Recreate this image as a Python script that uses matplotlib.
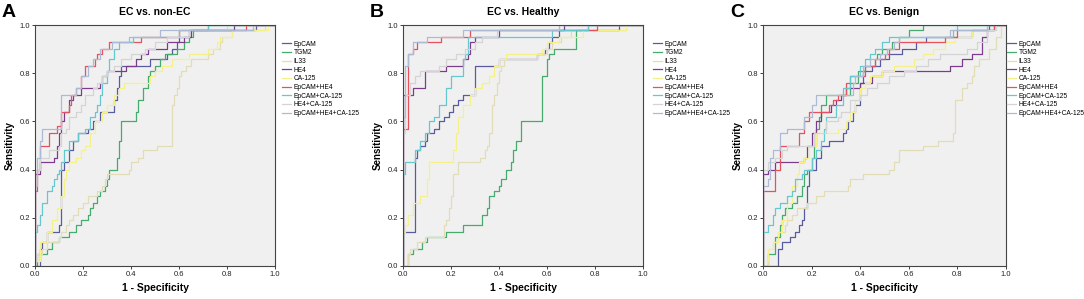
import matplotlib
matplotlib.use("Agg")
import matplotlib.pyplot as plt

plt.rcParams['font.family'] = ['Liberation Sans', 'DejaVu Sans']

LABELS = ['EpCAM', 'TGM2', 'IL33', 'HE4', 'CA-125', 'EpCAM+HE4',
          'EpCAM+CA-125', 'HE4+CA-125', 'EpCAM+HE4+CA-125']
COLORS = ['#5a5aa0', '#46ab6c', '#e2ddb6', '#7c3c8c', '#f6f08a', '#e8505c',
          '#66c8cc', '#d4d4d4', '#adbad6']
TITLES = ['EC vs. non-EC', 'EC vs. Healthy', 'EC vs. Benign']
LETTERS = ['A', 'B', 'C']

# ---- panel A: EC vs. non-EC  (fpr, tpr) ----
A_EPCAM = ([0, 0.02, 0.03, 0.05, 0.10, 0.11, 0.12, 0.14, 0.16, 0.18, 0.22, 0.24, 0.27, 0.33, 0.34, 0.35, 0.36, 0.48, 0.55, 0.57, 0.59, 0.60, 0.64, 0.92, 1.0],
           [0, 0.07, 0.10, 0.14, 0.17, 0.40, 0.43, 0.48, 0.52, 0.55, 0.57, 0.60, 0.64, 0.69, 0.74, 0.79, 0.83, 0.86, 0.88, 0.90, 0.93, 0.95, 0.98, 1.0, 1.0])
A_TGM2 = ([0, 0.01, 0.05, 0.07, 0.10, 0.14, 0.17, 0.19, 0.22, 0.23, 0.24, 0.26, 0.27, 0.29, 0.30, 0.31, 0.34, 0.35, 0.36, 0.42, 0.43, 0.45, 0.47, 0.48, 0.50, 0.52, 0.54, 0.59, 0.62, 0.64, 0.66, 0.72, 1.0],
          [0, 0.05, 0.07, 0.10, 0.12, 0.14, 0.17, 0.19, 0.21, 0.24, 0.26, 0.29, 0.31, 0.33, 0.36, 0.40, 0.45, 0.52, 0.60, 0.64, 0.69, 0.74, 0.79, 0.81, 0.83, 0.86, 0.88, 0.90, 0.93, 0.95, 0.98, 1.0, 1.0])
A_IL33 = ([0, 0, 0.01, 0.03, 0.05, 0.10, 0.11, 0.13, 0.14, 0.16, 0.18, 0.20, 0.22, 0.26, 0.28, 0.29, 0.30, 0.39, 0.40, 0.43, 0.45, 0.51, 0.57, 0.58, 0.59, 0.60, 0.61, 0.63, 0.65, 0.72, 0.74, 0.77, 0.78, 0.82, 0.96, 1.0],
          [0, 0.02, 0.05, 0.07, 0.10, 0.12, 0.14, 0.17, 0.19, 0.21, 0.24, 0.26, 0.29, 0.31, 0.33, 0.36, 0.38, 0.40, 0.43, 0.45, 0.48, 0.50, 0.67, 0.71, 0.74, 0.79, 0.81, 0.83, 0.86, 0.88, 0.90, 0.93, 0.95, 0.98, 1.0, 1.0])
A_HE4 = ([0, 0, 0.02, 0.08, 0.09, 0.10, 0.11, 0.12, 0.14, 0.16, 0.19, 0.27, 0.28, 0.30, 0.38, 0.42, 0.44, 0.47, 0.55, 0.62, 0.65, 0.83, 1.0],
         [0, 0.38, 0.43, 0.45, 0.50, 0.55, 0.60, 0.64, 0.69, 0.71, 0.74, 0.76, 0.79, 0.81, 0.83, 0.86, 0.88, 0.90, 0.93, 0.95, 0.98, 1.0, 1.0])
A_CA125 = ([0, 0, 0.02, 0.05, 0.07, 0.09, 0.11, 0.12, 0.13, 0.14, 0.17, 0.19, 0.21, 0.23, 0.25, 0.28, 0.30, 0.33, 0.35, 0.37, 0.48, 0.50, 0.53, 0.57, 0.64, 0.72, 0.76, 0.77, 0.82, 0.97, 1.0],
           [0, 0.02, 0.10, 0.14, 0.19, 0.24, 0.29, 0.36, 0.40, 0.43, 0.45, 0.48, 0.50, 0.55, 0.60, 0.64, 0.67, 0.71, 0.74, 0.76, 0.79, 0.81, 0.83, 0.86, 0.88, 0.90, 0.93, 0.95, 0.98, 1.0, 1.0])
A_EPCAM_HE4 = ([0, 0, 0.01, 0.02, 0.06, 0.09, 0.11, 0.14, 0.15, 0.17, 0.19, 0.21, 0.25, 0.26, 0.28, 0.31, 0.44, 0.60, 0.88, 1.0],
               [0, 0.31, 0.40, 0.50, 0.55, 0.58, 0.64, 0.67, 0.71, 0.74, 0.79, 0.83, 0.86, 0.88, 0.90, 0.93, 0.95, 0.98, 1.0, 1.0])
A_EPCAM_CA125 = ([0, 0, 0.01, 0.02, 0.03, 0.05, 0.07, 0.08, 0.09, 0.10, 0.11, 0.12, 0.14, 0.18, 0.21, 0.23, 0.25, 0.26, 0.27, 0.28, 0.30, 0.31, 0.33, 0.35, 0.41, 0.60, 0.72, 1.0],
                 [0, 0.14, 0.17, 0.21, 0.26, 0.31, 0.33, 0.36, 0.38, 0.40, 0.43, 0.48, 0.52, 0.55, 0.57, 0.62, 0.64, 0.67, 0.71, 0.76, 0.81, 0.86, 0.90, 0.93, 0.95, 0.98, 1.0, 1.0])
A_HE4_CA125 = ([0, 0, 0.02, 0.06, 0.10, 0.11, 0.13, 0.14, 0.17, 0.19, 0.21, 0.24, 0.26, 0.28, 0.30, 0.33, 0.36, 0.40, 0.46, 0.50, 0.55, 0.64, 0.80, 1.0],
               [0, 0.40, 0.45, 0.48, 0.50, 0.55, 0.57, 0.62, 0.64, 0.67, 0.71, 0.74, 0.76, 0.79, 0.81, 0.83, 0.86, 0.88, 0.90, 0.93, 0.95, 0.98, 1.0, 1.0])
A_ALL = ([0, 0, 0.01, 0.02, 0.03, 0.11, 0.11, 0.17, 0.19, 0.22, 0.24, 0.27, 0.32, 0.39, 0.52, 0.91, 1.0],
         [0, 0.33, 0.45, 0.52, 0.57, 0.60, 0.71, 0.74, 0.79, 0.83, 0.86, 0.90, 0.93, 0.95, 0.98, 1.0, 1.0])

# ---- panel B: EC vs. Healthy ----
B_EPCAM = ([0, 0, 0.05, 0.06, 0.07, 0.09, 0.10, 0.13, 0.15, 0.17, 0.19, 0.21, 0.23, 0.25, 0.30, 0.40, 0.56, 0.59, 0.61, 0.62, 0.65, 0.90, 1.0],
           [0, 0.14, 0.45, 0.48, 0.50, 0.52, 0.55, 0.57, 0.60, 0.62, 0.64, 0.67, 0.69, 0.71, 0.83, 0.86, 0.88, 0.90, 0.93, 0.95, 0.98, 1.0, 1.0])
B_TGM2 = ([0, 0.02, 0.04, 0.08, 0.10, 0.18, 0.25, 0.33, 0.35, 0.36, 0.38, 0.40, 0.41, 0.43, 0.45, 0.46, 0.47, 0.49, 0.58, 0.60, 0.61, 0.63, 0.72, 0.77, 1.0],
          [0, 0.05, 0.07, 0.10, 0.12, 0.14, 0.17, 0.21, 0.24, 0.29, 0.31, 0.33, 0.36, 0.40, 0.43, 0.48, 0.52, 0.60, 0.79, 0.86, 0.88, 0.90, 0.98, 1.0, 1.0])
B_IL33 = ([0, 0.02, 0.03, 0.06, 0.09, 0.17, 0.18, 0.19, 0.20, 0.21, 0.23, 0.32, 0.34, 0.35, 0.36, 0.37, 0.38, 0.39, 0.40, 0.41, 0.42, 0.56, 0.60, 0.62, 0.66, 0.70, 0.93, 1.0],
          [0, 0.05, 0.07, 0.10, 0.12, 0.17, 0.19, 0.24, 0.29, 0.38, 0.43, 0.45, 0.48, 0.50, 0.55, 0.67, 0.71, 0.76, 0.81, 0.83, 0.86, 0.88, 0.90, 0.93, 0.95, 0.98, 1.0, 1.0])
B_HE4 = ([0, 0, 0.04, 0.09, 0.18, 0.25, 0.27, 0.28, 0.30, 0.40, 0.67, 1.0],
         [0, 0.71, 0.74, 0.81, 0.83, 0.86, 0.88, 0.93, 0.95, 0.98, 1.0, 1.0])
B_CA125 = ([0, 0, 0.01, 0.02, 0.04, 0.07, 0.10, 0.11, 0.21, 0.22, 0.23, 0.25, 0.28, 0.30, 0.33, 0.36, 0.38, 0.40, 0.43, 0.58, 0.60, 0.65, 0.75, 0.93, 1.0],
           [0, 0.14, 0.17, 0.21, 0.26, 0.29, 0.36, 0.43, 0.48, 0.55, 0.62, 0.67, 0.71, 0.74, 0.76, 0.79, 0.83, 0.86, 0.88, 0.90, 0.93, 0.95, 0.98, 1.0, 1.0])
B_EPCAM_HE4 = ([0, 0, 0.02, 0.04, 0.06, 0.16, 0.28, 0.81, 1.0],
               [0, 0.57, 0.88, 0.90, 0.93, 0.95, 0.98, 1.0, 1.0])
B_EPCAM_CA125 = ([0, 0, 0.01, 0.05, 0.07, 0.09, 0.11, 0.13, 0.15, 0.18, 0.20, 0.25, 0.26, 0.27, 0.62, 0.77, 1.0],
                 [0, 0.38, 0.43, 0.48, 0.52, 0.55, 0.60, 0.62, 0.67, 0.74, 0.79, 0.86, 0.88, 0.95, 0.98, 1.0, 1.0])
B_HE4_CA125 = ([0, 0, 0.01, 0.03, 0.05, 0.07, 0.15, 0.18, 0.22, 0.26, 0.30, 0.33, 0.39, 0.65, 1.0],
               [0, 0.55, 0.71, 0.76, 0.79, 0.81, 0.83, 0.86, 0.88, 0.90, 0.93, 0.95, 0.98, 1.0, 1.0])
B_ALL = ([0, 0, 0.01, 0.02, 0.04, 0.10, 0.25, 0.65, 1.0],
         [0, 0.62, 0.83, 0.88, 0.93, 0.95, 0.98, 1.0, 1.0])

# ---- panel C: EC vs. Benign ----
C_EPCAM = ([0, 0.06, 0.08, 0.11, 0.13, 0.15, 0.16, 0.17, 0.18, 0.19, 0.22, 0.24, 0.27, 0.33, 0.34, 0.35, 0.37, 0.38, 0.40, 0.41, 0.45, 0.48, 0.52, 0.57, 0.63, 0.67, 0.86, 0.93, 1.0],
           [0, 0.07, 0.10, 0.12, 0.14, 0.17, 0.19, 0.24, 0.33, 0.40, 0.45, 0.50, 0.52, 0.55, 0.57, 0.60, 0.64, 0.67, 0.76, 0.81, 0.83, 0.86, 0.88, 0.90, 0.93, 0.95, 0.98, 1.0, 1.0])
C_TGM2 = ([0, 0.02, 0.05, 0.07, 0.08, 0.09, 0.12, 0.14, 0.16, 0.17, 0.18, 0.20, 0.21, 0.22, 0.23, 0.24, 0.26, 0.36, 0.39, 0.42, 0.46, 0.47, 0.49, 0.53, 0.56, 0.60, 0.66, 1.0],
          [0, 0.05, 0.12, 0.17, 0.21, 0.24, 0.26, 0.29, 0.33, 0.38, 0.40, 0.45, 0.50, 0.57, 0.62, 0.67, 0.71, 0.76, 0.81, 0.83, 0.86, 0.88, 0.90, 0.93, 0.95, 0.98, 1.0, 1.0])
C_IL33 = ([0, 0.02, 0.04, 0.06, 0.09, 0.10, 0.12, 0.14, 0.18, 0.22, 0.25, 0.35, 0.36, 0.41, 0.52, 0.54, 0.56, 0.66, 0.72, 0.78, 0.79, 0.82, 0.84, 0.86, 0.87, 0.89, 0.93, 0.96, 0.98, 1.0],
          [0, 0.07, 0.10, 0.14, 0.17, 0.19, 0.21, 0.24, 0.26, 0.29, 0.31, 0.33, 0.36, 0.38, 0.40, 0.43, 0.48, 0.50, 0.52, 0.55, 0.69, 0.74, 0.76, 0.79, 0.83, 0.86, 0.90, 0.95, 1.0, 1.0])
C_HE4 = ([0, 0, 0.02, 0.05, 0.17, 0.18, 0.20, 0.22, 0.24, 0.28, 0.30, 0.32, 0.34, 0.40, 0.45, 0.49, 0.77, 0.82, 0.86, 0.90, 0.92, 0.95, 1.0],
         [0, 0.38, 0.40, 0.43, 0.45, 0.50, 0.55, 0.60, 0.64, 0.67, 0.69, 0.71, 0.74, 0.76, 0.79, 0.81, 0.83, 0.86, 0.88, 0.95, 0.98, 1.0, 1.0])
C_CA125 = ([0, 0, 0.02, 0.04, 0.06, 0.08, 0.10, 0.12, 0.14, 0.15, 0.17, 0.19, 0.22, 0.31, 0.34, 0.36, 0.38, 0.40, 0.42, 0.44, 0.49, 0.54, 0.62, 0.66, 0.70, 0.75, 0.79, 0.86, 0.96, 1.0],
           [0, 0.02, 0.07, 0.10, 0.14, 0.19, 0.26, 0.33, 0.38, 0.43, 0.45, 0.50, 0.55, 0.57, 0.60, 0.64, 0.69, 0.74, 0.76, 0.79, 0.81, 0.83, 0.86, 0.88, 0.90, 0.93, 0.95, 0.98, 1.0, 1.0])
C_EPCAM_HE4 = ([0, 0, 0.05, 0.07, 0.15, 0.17, 0.19, 0.27, 0.29, 0.31, 0.34, 0.36, 0.42, 0.46, 0.50, 0.52, 0.56, 0.75, 0.80, 0.95, 1.0],
               [0, 0.31, 0.40, 0.50, 0.55, 0.60, 0.64, 0.67, 0.69, 0.71, 0.76, 0.79, 0.83, 0.86, 0.88, 0.90, 0.93, 0.95, 0.98, 1.0, 1.0])
C_EPCAM_CA125 = ([0, 0, 0.02, 0.04, 0.05, 0.07, 0.10, 0.12, 0.13, 0.16, 0.17, 0.20, 0.22, 0.24, 0.25, 0.26, 0.30, 0.33, 0.36, 0.40, 0.42, 0.44, 0.46, 0.49, 0.52, 0.78, 0.80, 1.0],
                 [0, 0.14, 0.17, 0.21, 0.24, 0.26, 0.29, 0.31, 0.36, 0.38, 0.40, 0.45, 0.48, 0.52, 0.57, 0.62, 0.67, 0.74, 0.79, 0.83, 0.86, 0.88, 0.90, 0.93, 0.95, 0.98, 1.0, 1.0])
C_HE4_CA125 = ([0, 0, 0.02, 0.05, 0.08, 0.10, 0.21, 0.26, 0.31, 0.32, 0.36, 0.40, 0.43, 0.47, 0.52, 0.58, 0.63, 0.68, 0.73, 0.84, 0.88, 0.92, 0.96, 1.0],
               [0, 0.40, 0.43, 0.45, 0.48, 0.50, 0.55, 0.60, 0.62, 0.64, 0.69, 0.71, 0.74, 0.76, 0.79, 0.81, 0.83, 0.86, 0.88, 0.90, 0.93, 0.98, 1.0, 1.0])
C_ALL = ([0, 0, 0.02, 0.03, 0.04, 0.07, 0.10, 0.17, 0.20, 0.22, 0.37, 0.38, 0.41, 0.44, 0.48, 0.51, 0.54, 0.56, 0.77, 0.92, 1.0],
         [0, 0.33, 0.36, 0.45, 0.48, 0.55, 0.57, 0.62, 0.67, 0.71, 0.76, 0.79, 0.83, 0.86, 0.88, 0.90, 0.93, 0.95, 0.98, 1.0, 1.0])

PANELS = [
    [A_EPCAM, A_TGM2, A_IL33, A_HE4, A_CA125, A_EPCAM_HE4, A_EPCAM_CA125, A_HE4_CA125, A_ALL],
    [B_EPCAM, B_TGM2, B_IL33, B_HE4, B_CA125, B_EPCAM_HE4, B_EPCAM_CA125, B_HE4_CA125, B_ALL],
    [C_EPCAM, C_TGM2, C_IL33, C_HE4, C_CA125, C_EPCAM_HE4, C_EPCAM_CA125, C_HE4_CA125, C_ALL],
]

W, H = 1084, 299
fig = plt.figure(figsize=(W / 100, H / 100), dpi=100)
boxes = [(35, 240), (403, 240), (763, 243)]   # left px, width px
legend_gap = [7, 10, 1]                        # px between axes and legend
ticks = [0, 0.2, 0.4, 0.6, 0.8, 1.0]

for i, curves in enumerate(PANELS):
    left, width = boxes[i]
    ax = fig.add_axes([left / W, 1 - 266 / H, width / W, 241 / H])
    ax.set_facecolor('#f0f0f0')
    for (fpr, tpr), lab, col in zip(curves, LABELS, COLORS):
        ax.plot(fpr, tpr, drawstyle='steps-post', color=col, lw=0.9, label=lab)
    ax.set_xlim(0, 1)
    ax.set_ylim(0, 1)
    ax.set_xticks(ticks)
    ax.set_yticks(ticks)
    ax.set_xticklabels(['%.1f' % t for t in ticks], fontsize=5.5)
    ax.set_yticklabels(['%.1f' % t for t in ticks], fontsize=5.5)
    ax.tick_params(length=2.5, width=0.6, pad=0.8, colors='#222222')
    for sp in ax.spines.values():
        sp.set_color('#444444')
        sp.set_linewidth(0.8)
    ax.set_title(TITLES[i], fontsize=7.5, fontweight='bold', pad=7)
    ax.set_xlabel('1 - Specificity', fontsize=7.5, fontweight='bold', labelpad=4)
    ax.set_ylabel('Sensitivity', fontsize=7, fontweight='bold', labelpad=3.5)
    ax.legend(loc='upper left', bbox_to_anchor=(1 + legend_gap[i] / width, 0.935),
              frameon=False, fontsize=4.8, handlelength=1.4, handletextpad=0.3,
              labelspacing=0.25, borderpad=0, borderaxespad=0)
    fig.text((left - 33) / W, 1 - 4 / H, LETTERS[i], fontsize=14,
             fontweight='bold', va='top', ha='left')

fig.savefig('out.png', dpi=100)
